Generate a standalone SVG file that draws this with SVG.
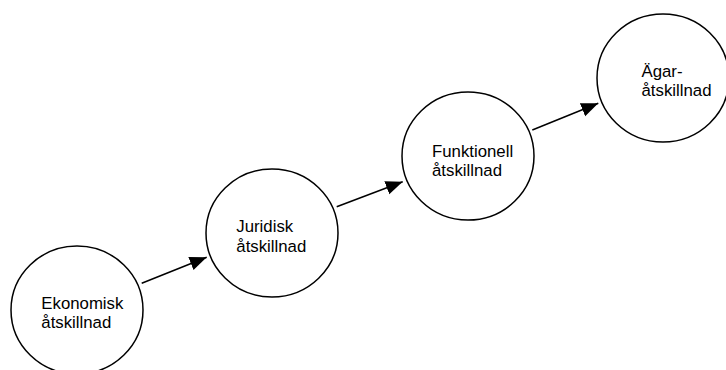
<svg xmlns="http://www.w3.org/2000/svg" width="726" height="370" viewBox="0 0 726 370">
<style>
.node{fill:#ffffff;stroke:#000000;stroke-width:1.5}
.lbl{font-family:"Liberation Sans",Arial,sans-serif;font-size:16.8px;fill:#000000}
.edge{stroke:#000000;stroke-width:1.5;fill:none;marker-end:url(#arr)}
</style>
<defs>
<marker id="arr" markerUnits="userSpaceOnUse" markerWidth="20" markerHeight="16" refX="17" refY="7" orient="auto">
<polygon points="0,0 17,7 0,14" fill="#000000"/>
</marker>
</defs>
<rect width="726" height="370" fill="#ffffff"/>
<g id="connectors">
<line class="edge" x1="141.7" y1="283.3" x2="206.7" y2="257.3"/>
<line class="edge" x1="336.7" y1="206.7" x2="402.7" y2="181.7"/>
<line class="edge" x1="532.3" y1="130" x2="598.3" y2="103.3"/>
</g>
<g id="node-ekonomisk">
<ellipse class="node" cx="77" cy="310" rx="66" ry="64"/>
<text class="lbl" x="41.3" y="309">Ekonomisk</text>
<text class="lbl" x="41.3" y="328">åtskillnad</text>
</g>
<g id="node-juridisk">
<ellipse class="node" cx="272" cy="233" rx="66" ry="64"/>
<text class="lbl" x="236.3" y="232">Juridisk</text>
<text class="lbl" x="236.3" y="251.5">åtskillnad</text>
</g>
<g id="node-funktionell">
<ellipse class="node" cx="468" cy="156" rx="66" ry="64"/>
<text class="lbl" x="432" y="156.5">Funktionell</text>
<text class="lbl" x="432" y="175.7">åtskillnad</text>
</g>
<g id="node-agar">
<ellipse class="node" cx="663" cy="78" rx="66" ry="64"/>
<text class="lbl" x="641.5" y="76.7">Ägar-</text>
<text class="lbl" x="641.5" y="95.7">åtskillnad</text>
</g>
</svg>
